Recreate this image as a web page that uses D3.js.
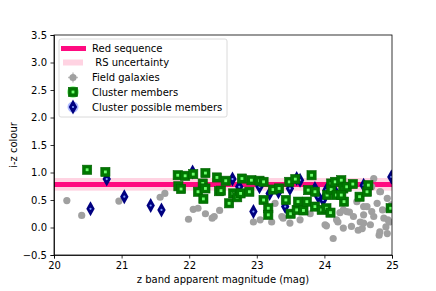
<!DOCTYPE html>
<meta charset="utf-8">
<style>
    body { margin: 0; background: #fff; }
    text { font-family: "DejaVu Sans", sans-serif; fill: #000; }
    .axis text { font-size: 10px; }
    .axis path, .axis line { stroke: #000; stroke-width: 0.8px; }
</style>
<svg width="436" height="291"></svg>
<script src="https://cdn.jsdelivr.net/npm/d3@7"></script>
<script>
    // red sequence colour and its uncertainty
    var rsColour = 0.78;
    var rsBand = [0.67, 0.9];

    var xTicks = [20, 21, 22, 23, 24, 25];
    var yTicks = [-0.5, 0, 0.5, 1, 1.5, 2, 2.5, 3, 3.5];

    var fieldMag = [20.19, 20.41, 20.96, 21.57, 21.64, 21.99, 22.06, 22.13, 22.24, 22.34, 22.37, 22.45,
        22.95, 23.05, 23.22, 23.27, 23.37, 23.39, 23.49, 23.64, 23.79, 24.01, 24.03, 24.13, 24.18, 24.20,
        24.23, 24.28, 24.28, 24.33, 24.37, 24.40, 24.43, 24.48, 24.50, 24.53, 24.56, 24.58, 24.58, 24.58,
        24.63, 24.68, 24.70, 24.70, 24.73, 24.73, 24.78, 24.81, 24.82, 24.82, 24.83, 24.86, 24.88, 24.91,
        24.93, 24.93, 24.94, 24.96, 24.99];
    var fieldCol = [0.49, 0.22, 0.48, 0.55, 0.62, 0.15, 0.33, 0.35, 0.25, 0.17, 0.20, 0.31,
        0.10, 0.14, 0.10, 0.44, 0.20, 0.17, 0.08, 0.14, 0.25, 0.05, 0.03, -0.20, 0.14, 0.10,
        0.27, -0.01, 0.32, 0.29, 0.28, 0.02, 0.20, 0.47, -0.05, 0.10, -0.02, 0.23, 0.08, 0.38,
        0.38, 0.05, 0.29, 0.74, 0.89, 0.20, 0.44, -0.14, 0.65, -0.08, 0.65, 0.32, 0.17, 0.01,
        0.53, -0.11, 0.14, 0.10, 0.41];

    var memberMag = [20.49, 20.76, 21.83, 21.94, 22.06, 22.24, 21.84, 21.88, 22.20, 22.13, 22.24, 22.21,
        22.41, 22.44, 22.54, 22.47, 22.65, 22.59, 22.71, 22.78, 22.76, 22.89, 22.92, 23.04, 23.10, 23.10,
        23.17, 23.17, 23.24, 23.33, 23.43, 23.48, 23.50, 23.57, 23.59, 23.61, 23.69, 23.74, 23.81, 23.76,
        23.86, 23.86, 23.96, 24.04, 24.03, 24.09, 24.10, 24.10, 24.16, 24.18, 24.25, 24.28, 24.29, 24.33,
        24.25, 24.42, 24.52, 24.63, 24.65, 24.98];
    var memberCol = [1.05, 1.01, 0.95, 0.94, 0.97, 0.99, 0.75, 0.70, 0.80, 0.65, 0.71, 0.52,
        0.91, 0.66, 0.85, 0.67, 0.62, 0.44, 0.55, 0.89, 0.62, 0.65, 0.86, 0.85, 0.83, 0.50,
        0.35, 0.23, 0.69, 0.71, 0.50, 0.83, 0.25, 0.88, 0.32, 0.47, 0.31, 0.47, 0.95, 0.68,
        0.65, 0.38, 0.32, 0.59, 0.35, 0.27, 0.80, 0.69, 0.83, 0.59, 0.86, 0.71, 0.47, 0.74,
        0.59, 0.79, 0.56, 0.65, 0.77, 0.35];

    var possibleMag = [20.54, 20.78, 21.04, 21.43, 21.59, 22.05, 22.64, 22.74, 22.95, 23.04, 23.19, 23.32,
        23.42, 23.49, 23.59, 23.64, 23.86, 23.91, 23.98, 24.03, 24.16, 24.58, 24.99];
    var possibleCol = [0.34, 0.88, 0.56, 0.40, 0.32, 1.01, 0.88, 0.74, 0.29, 0.74, 0.62, 0.65,
        0.38, 0.71, 0.89, 0.86, 0.71, 0.56, 0.50, 0.68, 0.65, 0.77, 0.92];

    var svg = d3.select("svg"),
        margin = {left: 54, right: 44, top: 35, bottom: 36},
        width = +svg.attr("width") - margin.left - margin.right,
        height = +svg.attr("height") - margin.top - margin.bottom;

    var x = d3.scaleLinear().domain([20, 25]).range([0, width]);
    var y = d3.scaleLinear().domain([-0.5, 3.5]).range([height, 0]);

    var g = svg.append("g").attr("transform", "translate(" + margin.left + "," + margin.top + ")");

    g.append("clipPath").attr("id", "clip")
        .append("rect").attr("width", width).attr("height", height);

    var plot = g.append("g").attr("clip-path", "url(#clip)");

    // uncertainty band and red sequence
    plot.append("rect")
        .attr("x", 0).attr("width", width)
        .attr("y", y(rsBand[1])).attr("height", y(rsBand[0]) - y(rsBand[1]))
        .attr("fill", "#ffd3e2");
    plot.append("line")
        .attr("x1", x(20)).attr("x2", x(25))
        .attr("y1", y(rsColour)).attr("y2", y(rsColour))
        .attr("stroke", "#ff0a80").attr("stroke-width", 5);

    function zip(a, b) { return a.map(function(v, i) { return [v, b[i]]; }); }

    plot.selectAll("circle.field")
        .data(zip(fieldMag, fieldCol))
        .enter().append("circle")
        .attr("class", "field")
        .attr("cx", function(d) { return x(d[0]); })
        .attr("cy", function(d) { return y(d[1]); })
        .attr("r", 3.6)
        .attr("fill", "#a0a0a0");

    var diamond = "M0,-7.5L4.2,0L0,7.5L-4.2,0Z";

    function drawPossible(sel) {
        sel.append("path").attr("d", diamond).attr("fill", "#000080");
        sel.append("circle").attr("r", 1.1).attr("fill", "#7f9cff");
    }
    function drawMember(sel) {
        sel.append("rect").attr("x", -4.6).attr("y", -4.6).attr("width", 9.2).attr("height", 9.2)
            .attr("fill", "#007700").attr("stroke", "#006000").attr("stroke-width", 0.6);
        sel.append("rect").attr("x", -1.4).attr("y", -1.4).attr("width", 2.8).attr("height", 2.8)
            .attr("fill", "#6dff6d");
    }

    plot.selectAll("g.possible")
        .data(zip(possibleMag, possibleCol))
        .enter().append("g")
        .attr("class", "possible")
        .attr("transform", function(d) { return "translate(" + x(d[0]) + "," + y(d[1]) + ")"; })
        .call(drawPossible);

    plot.selectAll("g.member")
        .data(zip(memberMag, memberCol))
        .enter().append("g")
        .attr("class", "member")
        .attr("transform", function(d) { return "translate(" + x(d[0]) + "," + y(d[1]) + ")"; })
        .call(drawMember);

    // axes
    g.append("g").attr("class", "axis")
        .attr("transform", "translate(0," + height + ")")
        .call(d3.axisBottom(x).tickValues(xTicks).tickFormat(d3.format("d")).tickSizeOuter(0).tickSize(3.5).tickPadding(3.5));
    g.append("g").attr("class", "axis")
        .call(d3.axisLeft(y).tickValues(yTicks).tickFormat(d3.format(".1f")).tickSizeOuter(0).tickSize(3.5).tickPadding(3.5));
    g.selectAll(".axis text").text(function() { return this.textContent.replace("-", "\u2212"); });

    g.append("rect")
        .attr("width", width).attr("height", height)
        .attr("fill", "none").attr("stroke", "#000").attr("stroke-width", 0.8);

    svg.append("text")
        .attr("x", margin.left + width / 2).attr("y", 283)
        .attr("text-anchor", "middle").attr("font-size", 10)
        .text("z band apparent magnitude (mag)");
    svg.append("text")
        .attr("transform", "translate(17," + (margin.top + height / 2) + ") rotate(-90)")
        .attr("text-anchor", "middle").attr("font-size", 10)
        .text("i-z colour");

    // legend
    var leg = svg.append("g").attr("transform", "translate(59,39)");
    leg.append("rect")
        .attr("width", 168).attr("height", 78).attr("rx", 2)
        .attr("fill", "#fff").attr("fill-opacity", 0.8)
        .attr("stroke", "#d0d0d0").attr("stroke-width", 0.8);

    var rowY = [9.5, 23.5, 38.5, 53, 68];
    var labels = ["Red sequence", " RS uncertainty", "Field galaxies", "Cluster members", "Cluster possible members"];

    leg.append("line").attr("x1", 2).attr("x2", 27).attr("y1", rowY[0]).attr("y2", rowY[0])
        .attr("stroke", "#ff0a80").attr("stroke-width", 5);
    leg.append("rect").attr("x", 4).attr("y", rowY[1] - 3).attr("width", 20).attr("height", 6)
        .attr("fill", "#ffd3e2");

    var m2 = leg.append("g").attr("transform", "translate(14," + rowY[2] + ")");
    m2.append("line").attr("x1", -5).attr("x2", 5).attr("stroke", "#c0c0c0").attr("stroke-width", 1.5);
    m2.append("line").attr("y1", -5).attr("y2", 5).attr("stroke", "#c0c0c0").attr("stroke-width", 1.5);
    m2.append("circle").attr("r", 3.6).attr("fill", "#a0a0a0");

    var m3 = leg.append("g").attr("transform", "translate(14," + rowY[3] + ")");
    m3.append("circle").attr("r", 6).attr("fill", "#55ff55").attr("opacity", 0.6);
    m3.call(drawMember);

    var m4 = leg.append("g").attr("transform", "translate(14," + rowY[4] + ")");
    m4.append("circle").attr("r", 5.5).attr("fill", "#8c9cff").attr("opacity", 0.7);
    m4.call(drawPossible);

    leg.selectAll("text.lab")
        .data(labels)
        .enter().append("text")
        .attr("class", "lab")
        .attr("x", 33)
        .attr("y", function(d, i) { return rowY[i]; })
        .attr("dy", "0.35em")
        .attr("font-size", 10)
        .attr("xml:space", "preserve")
        .style("white-space", "pre")
        .text(function(d) { return d; });
</script>
